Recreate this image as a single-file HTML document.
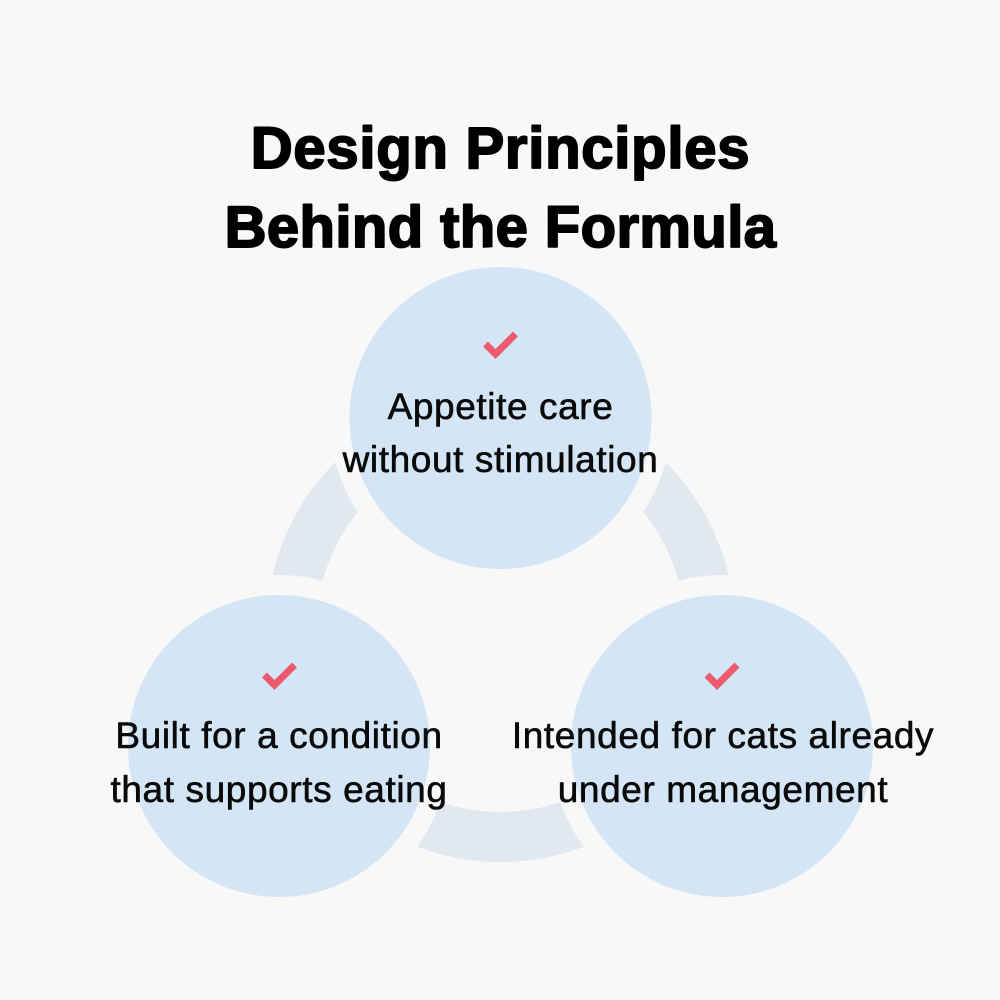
<!DOCTYPE html>
<html>
<head>
<meta charset="utf-8">
<style>
  html, body { margin: 0; padding: 0; background: #f8f8f8; }
  body { width: 1000px; height: 1000px; overflow: hidden; }
  svg { display: block; }
  .title { font-family: "Liberation Sans", "DejaVu Sans", sans-serif; font-weight: bold; font-size: 58px; letter-spacing: 0.4px; fill: #000; stroke: #000; stroke-width: 1.9px; stroke-linejoin: round; }
  .t1 { letter-spacing: 0.75px; }
  .body { font-family: "Liberation Sans", "DejaVu Sans", sans-serif; font-size: 37px; letter-spacing: 0.6px; fill: #0a0a0a; stroke: #0a0a0a; stroke-width: 0.6px; stroke-linejoin: round; }
</style>
</head>
<body>
<svg width="1000" height="1000" viewBox="0 0 1000 1000" xmlns="http://www.w3.org/2000/svg">
  <rect x="0" y="0" width="1000" height="1000" fill="#f8f8f8"/>

  <!-- Title -->
  <text class="title t1" x="500.5" y="168" text-anchor="middle">Design Principles</text>
  <text class="title" x="500.5" y="247" text-anchor="middle">Behind the Formula</text>

  <!-- Ring -->
  <circle cx="500.5" cy="628" r="209" fill="none" stroke="#e2e8f0" stroke-width="50"/>

  <!-- Halos -->
  <circle cx="500.5" cy="418" r="171" fill="#f8f8f8"/>
  <circle cx="279" cy="746" r="171" fill="#f8f8f8"/>
  <circle cx="722" cy="746" r="171" fill="#f8f8f8"/>

  <!-- Circles -->
  <circle cx="500.5" cy="418" r="151" fill="#d4e5f5"/>
  <circle cx="279" cy="746" r="151" fill="#d4e5f5"/>
  <circle cx="722" cy="746" r="151" fill="#d4e5f5"/>

  <!-- Checks -->
  <polyline points="485.5,344 495.5,354 515.5,334" fill="none" stroke="#ec5a6e" stroke-width="7" stroke-linejoin="miter" stroke-linecap="butt"/>
  <polyline points="264.5,675 274.5,685 294.5,665" fill="none" stroke="#ec5a6e" stroke-width="7" stroke-linejoin="miter" stroke-linecap="butt"/>
  <polyline points="707,675 717,685 737,665" fill="none" stroke="#ec5a6e" stroke-width="7" stroke-linejoin="miter" stroke-linecap="butt"/>

  <!-- Labels -->
  <text class="body" x="500.5" y="419" text-anchor="middle">Appetite care</text>
  <text class="body" x="500.5" y="472" text-anchor="middle">without stimulation</text>

  <text class="body" x="279" y="748" text-anchor="middle">Built for a condition</text>
  <text class="body" x="279" y="802" text-anchor="middle">that supports eating</text>

  <text class="body" x="723" y="748" text-anchor="middle">Intended for cats already</text>
  <text class="body" x="723" y="802" text-anchor="middle">under management</text>
</svg>
</body>
</html>
